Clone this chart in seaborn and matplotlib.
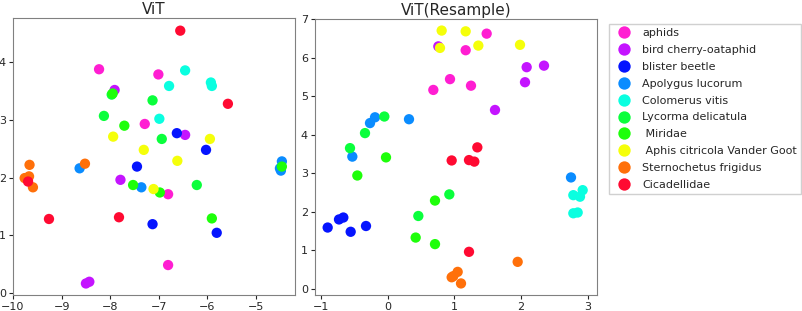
import pandas as pd
import matplotlib
matplotlib.use("Agg")
import matplotlib.pyplot as plt
import seaborn as sns

# class names in legend order
classes = [
    "aphids",
    "bird cherry-oataphid",
    "blister beetle",
    "Apolygus lucorum",
    "Colomerus vitis",
    "Lycorma delicatula",
    " Miridae",
    " Aphis citricola Vander Goot",
    "Sternochetus frigidus",
    "Cicadellidae",
]

palette = {
    "aphids": "#ff1ed2",
    "bird cherry-oataphid": "#c414ff",
    "blister beetle": "#0514ff",
    "Apolygus lucorum": "#0a8cff",
    "Colomerus vitis": "#0affe0",
    "Lycorma delicatula": "#0aff3c",
    " Miridae": "#1eff0a",
    " Aphis citricola Vander Goot": "#f5ff0a",
    "Sternochetus frigidus": "#ff700a",
    "Cicadellidae": "#ff0a32",
}

# ViT embedding
vit_x = {
    "aphids": [-8.23, -7.01, -7.29, -6.81, -6.81],
    "bird cherry-oataphid": [-7.91, -6.46, -7.79, -8.50, -8.43],
    "blister beetle": [-7.45, -6.63, -6.03, -7.13, -5.81],
    "Apolygus lucorum": [-8.63, -7.36, -4.51, -4.47, -4.49],
    "Colomerus vitis": [-6.46, -6.79, -5.93, -5.91, -6.99],
    "Lycorma delicatula": [-7.97, -7.13, -8.13, -6.94, -6.22],
    " Miridae": [-7.95, -7.71, -7.53, -6.98, -5.91, -4.47],
    " Aphis citricola Vander Goot": [-7.94, -7.31, -6.62, -5.95, -7.11],
    "Sternochetus frigidus": [-9.66, -9.76, -9.67, -9.59, -8.52],
    "Cicadellidae": [-6.56, -5.58, -9.69, -9.26, -7.82],
}
vit_y = {
    "aphids": [3.88, 3.79, 2.93, 1.71, 0.48],
    "bird cherry-oataphid": [3.52, 2.74, 1.96, 0.16, 0.19],
    "blister beetle": [2.19, 2.77, 2.48, 1.19, 1.04],
    "Apolygus lucorum": [2.16, 1.83, 2.16, 2.28, 2.12],
    "Colomerus vitis": [3.86, 3.59, 3.65, 3.59, 3.02],
    "Lycorma delicatula": [3.44, 3.34, 3.07, 2.67, 1.87],
    " Miridae": [3.46, 2.90, 1.87, 1.74, 1.29, 2.19],
    " Aphis citricola Vander Goot": [2.71, 2.48, 2.29, 2.67, 1.80],
    "Sternochetus frigidus": [2.22, 1.99, 2.02, 1.83, 2.24],
    "Cicadellidae": [4.55, 3.28, 1.93, 1.28, 1.31],
}

# ViT(Resample) embedding
res_x = {
    "aphids": [1.485, 1.17, 0.935, 0.685, 1.25],
    "bird cherry-oataphid": [0.76, 2.085, 2.345, 2.06, 1.61],
    "blister beetle": [-0.90, -0.73, -0.665, -0.555, -0.325],
    "Apolygus lucorum": [-0.265, -0.19, 0.32, -0.53, 2.75],
    "Colomerus vitis": [2.785, 2.885, 2.925, 2.785, 2.85],
    "Lycorma delicatula": [-0.05, -0.34, -0.565, 0.925, 0.46],
    " Miridae": [-0.025, -0.455, 0.71, 0.42, 0.71],
    " Aphis citricola Vander Goot": [0.81, 1.17, 0.785, 1.36, 1.985],
    "Sternochetus frigidus": [0.985, 1.05, 1.10, 0.96, 1.95],
    "Cicadellidae": [0.96, 1.345, 1.22, 1.30, 1.22],
}
res_y = {
    "aphids": [6.62, 6.19, 5.44, 5.16, 5.27],
    "bird cherry-oataphid": [6.29, 5.75, 5.79, 5.36, 4.64],
    "blister beetle": [1.59, 1.80, 1.85, 1.48, 1.63],
    "Apolygus lucorum": [4.30, 4.45, 4.40, 3.43, 2.89],
    "Colomerus vitis": [2.43, 2.39, 2.56, 1.96, 1.98],
    "Lycorma delicatula": [4.47, 4.04, 3.65, 2.45, 1.89],
    " Miridae": [3.41, 2.94, 2.29, 1.33, 1.16],
    " Aphis citricola Vander Goot": [6.70, 6.68, 6.25, 6.31, 6.33],
    "Sternochetus frigidus": [0.33, 0.44, 0.14, 0.30, 0.70],
    "Cicadellidae": [3.33, 3.67, 3.34, 3.30, 0.96],
}


def to_frame(xs, ys):
    rows = []
    for c in classes:
        for x, y in zip(xs[c], ys[c]):
            rows.append({"x": x, "y": y, "label": c})
    return pd.DataFrame(rows)


vit = to_frame(vit_x, vit_y)
res = to_frame(res_x, res_y)

sns.set_style("white")
plt.rcParams["font.family"] = ["DejaVu Sans"]

fig = plt.figure(figsize=(8.03, 3.11), dpi=100)
ax1 = fig.add_axes([13 / 803, 16 / 311, 282 / 803, 277 / 311])
ax2 = fig.add_axes([315 / 803, 16 / 311, 282 / 803, 276 / 311])

sns.scatterplot(data=vit, x="x", y="y", hue="label", hue_order=classes,
                palette=palette, s=55, linewidth=0, ax=ax1, legend=False)
sns.scatterplot(data=res, x="x", y="y", hue="label", hue_order=classes,
                palette=palette, s=55, linewidth=0, ax=ax2)

ax1.set_xlim(-10.0, -4.2)
ax1.set_ylim(-0.04, 4.77)
ax1.set_xticks([-10, -9, -8, -7, -6, -5])
ax1.set_yticks([0, 1, 2, 3, 4])
ax2.set_xlim(-1.09, 3.14)
ax2.set_ylim(-0.16, 7.0)
ax2.set_xticks([-1, 0, 1, 2, 3])
ax2.set_yticks(range(8))

for ax, title in [(ax1, "ViT"), (ax2, "ViT(Resample)")]:
    ax.set_title(title, fontsize=11, pad=3)
    ax.set_xlabel("")
    ax.set_ylabel("")
    ax.tick_params(axis="both", labelsize=8, length=3, direction="out",
                   bottom=True, left=True, pad=2)
    for sp in ax.spines.values():
        sp.set_color("#808080")
        sp.set_linewidth(0.8)

handles, labels = ax2.get_legend_handles_labels()
ax2.legend(handles, labels, loc="upper left", bbox_to_anchor=(603 / 803, 293 / 311),
           bbox_transform=fig.transFigure, fontsize=8, frameon=True,
           markerscale=1.2, handletextpad=0.6, labelspacing=0.62,
           borderpad=0.4, framealpha=1, edgecolor="#d0d0d0", fancybox=False)

fig.savefig("out.png", dpi=100)
